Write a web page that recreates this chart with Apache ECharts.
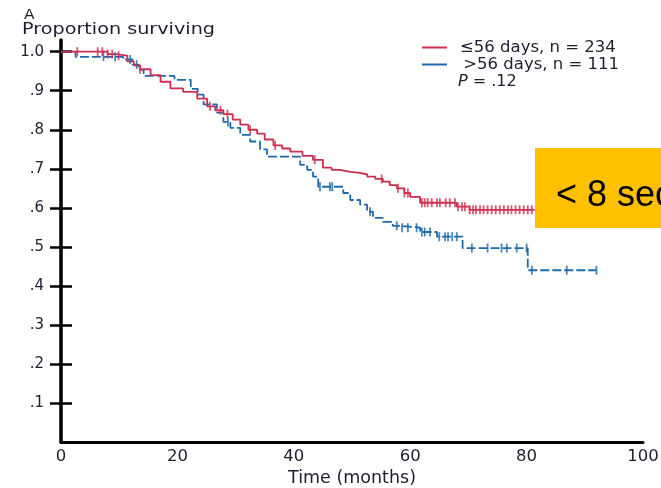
<!DOCTYPE html>
<html>
<head>
<meta charset="utf-8">
<script src="https://cdn.jsdelivr.net/npm/echarts@6/dist/echarts.min.js"></script>
<style>
  html, body { margin: 0; padding: 0; background: #fff; }
  #chart { width: 661px; height: 488px; }
</style>
</head>
<body>
<div id="chart"></div>
<script>
// Kaplan-Meier step data: event times (months) and survival after each event
const redTimes = [0, 8.0, 9.3, 11.4, 12.5, 13.6, 15.4, 17.1, 18.8, 21.0, 23.4, 25.1, 26.5, 27.9, 29.5, 30.8, 32.2, 33.7, 35.0, 36.5, 38.0, 39.4, 41.5, 43.3, 45.0, 46.5, 47.9, 49.7, 51.0, 52.6, 54.0, 55.3, 56.5, 57.7, 59.0, 60.0, 61.7, 68.0, 70.2, 81.4];
const redSurv  = [1.0, 0.994, 0.99, 0.975, 0.965, 0.955, 0.94, 0.923, 0.906, 0.897, 0.88, 0.86, 0.85, 0.84, 0.826, 0.813, 0.80, 0.79, 0.775, 0.76, 0.752, 0.744, 0.733, 0.723, 0.703, 0.697, 0.692, 0.69, 0.686, 0.68, 0.674, 0.667, 0.658, 0.65, 0.638, 0.628, 0.613, 0.603, 0.595, 0.595];

const blueTimes = [0, 2.5, 10.7, 12.3, 13.3, 14.2, 19.5, 22.3, 23.5, 24.5, 26.8, 27.9, 29.1, 30.8, 32.5, 34.2, 35.4, 41.1, 42.3, 43.3, 44.2, 48.5, 49.7, 51.4, 52.6, 53.6, 55.3, 57.0, 58.2, 61.7, 64.6, 69.0, 80.2, 92.0];
const blueSurv  = [1.0, 0.987, 0.98, 0.967, 0.954, 0.938, 0.928, 0.905, 0.89, 0.865, 0.844, 0.82, 0.805, 0.787, 0.77, 0.75, 0.731, 0.71, 0.697, 0.68, 0.654, 0.638, 0.62, 0.608, 0.59, 0.574, 0.564, 0.554, 0.549, 0.538, 0.526, 0.497, 0.44, 0.44];

// Censoring times (months)
const redCensored = [2.8, 6.3, 7.1, 8.0, 8.8, 9.9, 13.6, 25.6, 27.4, 28.6, 32.5, 36.8, 43.6, 55.1, 57.9, 59.0, 59.6, 62.0, 62.5, 63.0, 63.7, 64.6, 65.1, 66.1, 66.8, 67.7, 68.2, 68.9, 69.4, 70.2, 70.8, 71.3, 72.0, 72.6, 73.3, 74.0, 74.7, 75.4, 76.1, 76.8, 77.4, 78.1, 78.8, 79.5, 80.2, 80.9];
const blueCensored = [7.3, 9.3, 11.9, 13.0, 28.7, 44.5, 46.2, 46.6, 53.1, 57.7, 58.6, 59.6, 61.1, 62.0, 62.5, 63.4, 65.0, 66.0, 66.5, 67.2, 68.0, 70.6, 73.3, 75.7, 76.6, 78.3, 80.0, 80.9, 86.9, 92.0];

const groupNames = ['\u226456 days, n = 234', '\u2009>56 days, n = 111'];
const yTicks = [0.1, 0.2, 0.3, 0.4, 0.5, 0.6, 0.7, 0.8, 0.9, 1.0];

const RED = '#cf2f4f';
const BLUE = '#1f69aa';
const TEXT = '#1e1e30';
const FONT = 'DejaVu Sans';

// survival value of a step curve at time t
function survivalAt(times, surv, t) {
  let s = surv[0];
  for (let i = 0; i < times.length; i++) {
    if (times[i] <= t) s = surv[i]; else break;
  }
  return s;
}
const pairs = (a, b) => a.map((v, i) => [v, b[i]]);
const censorPoints = (c, times, surv) => c.map(t => [t, survivalAt(times, surv, t)]);

function yLabel(v) {
  const r = Math.round(v * 10) / 10;
  return r === 1 ? '1.0' : '.' + Math.round(r * 10);
}

const chart = echarts.init(document.getElementById('chart'), null, { renderer: 'canvas' });

const censorSymbol = { symbol: 'rect', symbolSize: [1.8, 9] };

chart.setOption({
  animation: false,
  backgroundColor: '#fff',
  grid: { left: 61, right: 18, top: 40, bottom: 46, containLabel: false, outerBoundsMode: 'none' },
  legend: {
    orient: 'vertical',
    left: 417,
    top: 34,
    icon: 'rect',
    itemWidth: 25,
    itemHeight: 2,
    itemGap: 0,
    data: groupNames,
    textStyle: { fontFamily: FONT, fontSize: 16.5, color: TEXT, padding: [0, 0, 0, 8] }
  },
  xAxis: {
    type: 'value',
    min: 0,
    max: 100,
    interval: 20,
    name: 'Time (months)',
    nameLocation: 'middle',
    nameGap: 25,
    nameTextStyle: { fontFamily: FONT, fontSize: 17.5, color: TEXT },
    axisLine: { show: true, onZero: false, lineStyle: { color: '#000', width: 3 } },
    axisTick: { show: false },
    splitLine: { show: false },
    axisLabel: { margin: 6, fontFamily: FONT, fontSize: 16.5, color: TEXT }
  },
  yAxis: [{
    type: 'value',
    min: 0,
    max: 1.03,
    axisLine: { show: true, onZero: false, lineStyle: { color: '#000', width: 3.5 } },
    axisTick: { show: true, length: 11, customValues: yTicks, lineStyle: { color: '#000', width: 2.5 } },
    splitLine: { show: false },
    axisLabel: {
      customValues: yTicks, margin: 17,
      fontFamily: FONT, fontSize: 15, color: TEXT, formatter: yLabel
    }
  }, {
    type: 'value',
    min: 0,
    max: 1.03,
    position: 'left',
    axisLine: { show: false },
    axisTick: { show: true, inside: true, length: 11, customValues: yTicks, lineStyle: { color: '#000', width: 2.5 } },
    axisLabel: { show: false },
    splitLine: { show: false }
  }],
  series: [
    {
      name: groupNames[0],
      type: 'line',
      step: 'end',
      symbol: 'none',
      data: pairs(redTimes, redSurv),
      lineStyle: { color: RED, width: 1.8 },
      itemStyle: { color: RED },
      z: 3
    },
    {
      name: groupNames[1],
      type: 'line',
      step: 'end',
      symbol: 'none',
      data: pairs(blueTimes, blueSurv),
      lineStyle: { color: BLUE, width: 1.8, type: [9, 3] },
      itemStyle: { color: BLUE },
      z: 2
    },
    Object.assign({
      type: 'scatter',
      data: censorPoints(redCensored, redTimes, redSurv),
      itemStyle: { color: RED },
      silent: true,
      z: 4
    }, censorSymbol),
    Object.assign({
      type: 'scatter',
      data: censorPoints(blueCensored, blueTimes, blueSurv),
      itemStyle: { color: BLUE },
      silent: true,
      z: 4
    }, censorSymbol)
  ],
  graphic: [
    { type: 'text', x: 24, y: 8, scaleX: 1.1, style: { text: 'A', font: '14px "DejaVu Sans"', fill: TEXT } },
    { type: 'text', x: 22, y: 23, scaleX: 1.28, style: { text: 'Proportion surviving', font: '15px "DejaVu Sans"', fill: TEXT } },
    {
      type: 'text', x: 458, y: 74,
      style: {
        text: '{i|P} = .12',
        font: '16px "DejaVu Sans"', fill: TEXT,
        rich: { i: { fontStyle: 'italic', fontFamily: FONT, fontSize: 16, fill: TEXT } }
      }
    },
    { type: 'rect', shape: { x: 535, y: 148, width: 140, height: 80 }, style: { fill: '#FFC000' }, z: 10 },
    { type: 'text', x: 556, y: 178, style: { text: '< 8 sec', font: '36px "Liberation Sans"', fill: '#000' }, z: 11 }
  ]
});
</script>
</body>
</html>
